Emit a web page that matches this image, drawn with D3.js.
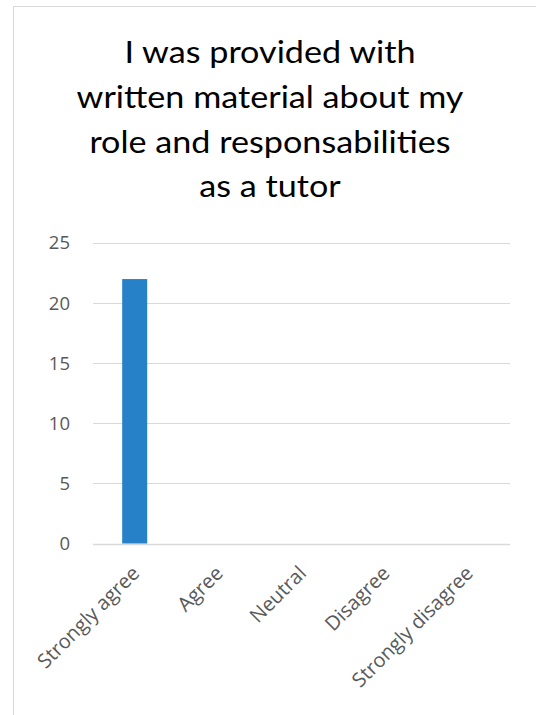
<!DOCTYPE html>
<html><head><meta charset="utf-8">
<script src="https://cdn.jsdelivr.net/npm/d3@7"></script>
<style>html,body{margin:0;padding:0;background:#fff;}</style>
</head><body>
<script>
const titleLines = ["I was provided with", "written material about my", "role and responsabilities", "as a tutor"];
const categories = ["Strongly agree", "Agree", "Neutral", "Disagree", "Strongly disagree"];
const values = [22, 0, 0, 0, 0];
const yTicks = [0, 5, 10, 15, 20, 25];

const W = 536, H = 715;
const svg = d3.select("body").append("svg").attr("width", W).attr("height", H);
svg.append("rect").attr("x", 13.5).attr("y", 6.5).attr("width", W + 10).attr("height", H + 10)
  .attr("fill", "#fff").attr("stroke", "#d9d9d9").attr("stroke-width", 1);

const titleG = svg.append("g");
const title = titleG.append("text").attr("text-anchor", "middle")
  .attr("font-family", "Lato, 'Open Sans', sans-serif").attr("font-size", 30).attr("fill", "#000");
const tsp = titleLines.map((t, i) => title.append("tspan").attr("x", 0).attr("y", 63.5 + i * 44.6).text(t));
// stretch horizontally so the longest line matches the reference width
const w2 = tsp[1].node().getComputedTextLength();
titleG.attr("transform", `translate(270,0) scale(${387 / w2},1)`);

const pLeft = 93, pRight = 510, pTop = 243, pBottom = 543.5;
const x = d3.scaleBand().domain(categories).range([pLeft, pRight]).paddingInner(0.7).paddingOuter(0.35);
const y = d3.scaleLinear().domain([0, 25]).range([pBottom, pTop]);

const grid = svg.append("g");
grid.selectAll("line").data(yTicks).join("line")
  .attr("x1", pLeft).attr("x2", pRight)
  .attr("y1", d => Math.round(y(d)) + 0.5).attr("y2", d => Math.round(y(d)) + 0.5)
  .attr("stroke", "#d9d9d9").attr("stroke-width", d => d === 0 ? 1.5 : 1);

const yAxis = d3.axisLeft(y).tickValues(yTicks).tickSize(0).tickPadding(0);
const ya = svg.append("g").attr("transform", `translate(${pLeft - 23},0)`).call(yAxis);
ya.select(".domain").remove();
ya.selectAll("text").attr("font-family", "'Open Sans', sans-serif").attr("font-size", 18.5).attr("fill", "#595959");

svg.append("g").selectAll("rect").data(values).join("rect")
  .attr("x", (d, i) => x(categories[i])).attr("width", x.bandwidth())
  .attr("y", d => y(d)).attr("height", d => y(0) - y(d)).attr("fill", "#2681c8");

const xAxis = d3.axisBottom(x).tickSize(0).tickPadding(0);
const xa = svg.append("g").attr("transform", `translate(0,${pBottom})`).call(xAxis);
xa.select(".domain").remove();
xa.selectAll("text")
  .attr("font-family", "'Open Sans', sans-serif").attr("font-size", 20).attr("fill", "#595959")
  .attr("text-anchor", "end").attr("dy", null)
  .attr("transform", "translate(6,31) rotate(-45)");
</script>
</body></html>
